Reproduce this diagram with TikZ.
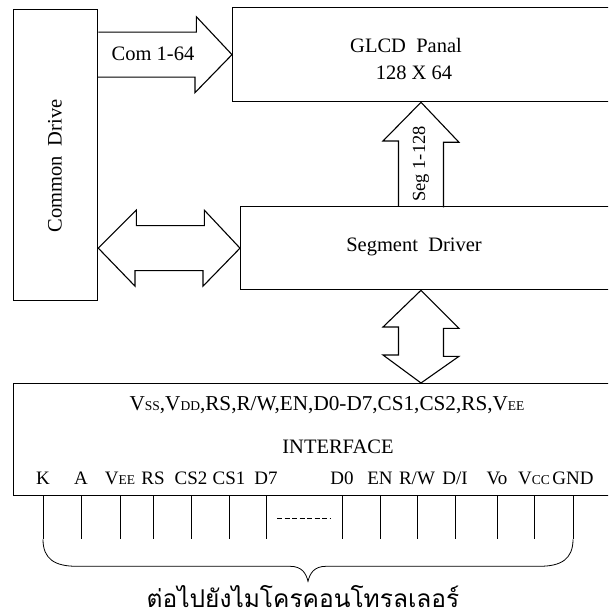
\documentclass[tikz,border=0pt]{standalone}
\usepackage{fontspec}
\setmainfont{Liberation Serif}
\newfontfamily\thaifont[Script=Thai]{Loma}
\usetikzlibrary{calc}
\newcommand\fs{\fontsize{20.5}{27}\selectfont}
\newcommand\fspin{\fontsize{19}{22}\selectfont}
\newcommand\sml[1]{{\fontsize{13.5}{13.5}\selectfont #1}}
\tikzset{
  blk/.style={draw, line width=1.3pt, inner sep=0pt},
  txt/.style={font=\fs, inner sep=0pt},
  blockarrow/.style={draw, line width=1.1pt, line join=miter},
  pinline/.style={line width=0.9pt},
}
\begin{document}
\begin{tikzpicture}[x=1pt, y=-1pt]
\useasboundingbox (0,0) rectangle (608,612);
\clip (0,0) rectangle (608,612);
% boxes
\node[blk, anchor=north west, minimum width=84pt, minimum height=291pt] (cdrive) at (13,9) {};
\node[blk, anchor=north west, minimum width=400pt, minimum height=94pt] (glcd) at (232,7) {};
\node[blk, anchor=north west, minimum width=400pt, minimum height=83pt] (segdrv) at (240,206) {};
\node[blk, anchor=north west, minimum width=620pt, minimum height=112pt] (iface) at (13,383) {};
\node[txt, rotate=90] (cdtxt) at (55,166) {Common\ \ Drive};
\node[txt, align=center] (glcdtxt) at (406,58.5) {GLCD\ \ Panal\\\hspace{16pt}128 X 64};
\node[txt] (segtxt) at (414,247) {Segment\ \ Driver};
% block arrows
\pgfmathsetmacro{\ax}{421}
\draw[blockarrow] (cdrive.east |- glcd.west) ++(0,-22.5) -- ++(98,0) -- ++(0,-15.5) -- (glcd.west)
  -- ++(-37,38) -- ++(0,-15.5) -- ++(-98,0);
\node[txt] (comlbl) at (153,54) {Com 1-64};
\draw[blockarrow] (cdrive.east |- segdrv.west) -- ++(38,-38) -- ++(0,15.5) -- ++(68,0) -- ++(0,-15.5)
  -- (segdrv.west) -- ++(-37,38) -- ++(0,-15.5) -- ++(-68,0) -- ++(0,15.5) -- cycle;
\draw[blockarrow] (\ax-22.5,0 |- segdrv.north) -- ++(0,-65) -- ++(-15.5,0) -- (\ax,0 |- glcd.south)
  -- ++(38,40) -- ++(-15.5,0) -- ++(0,65);
\node[txt, font=\fontsize{18.5}{22}\selectfont, rotate=90] (seglbl) at (\ax,164) {Seg 1-128};
\draw[blockarrow] (\ax,0 |- segdrv.south) -- ++(38,38) -- ++(-15.5,0) -- ++(0,28) -- ++(15.5,0)
  -- (\ax,0 |- iface.north) -- ++(-38,-28) -- ++(15.5,0) -- ++(0,-28) -- ++(-15.5,0) -- cycle;
% interface text
\node[txt, font=\fontsize{21.2}{27}\selectfont] (sigs) at (327,405) {V\sml{SS},V\sml{DD},RS,R/W,EN,D0-D7,CS1,CS2,RS,V\sml{EE}};
\node[txt] (iftxt) at (338,447) {INTERFACE};
\foreach \px/\pl [count=\i] in {43/K, 81/A, 120/V\sml{EE}, 153/RS, 191/CS2, 229/CS1, 266/D7,
  342/D0, 380/EN, 417/{R/W}, 455/{D/I}, 497/Vo, 534/V\sml{CC}, 573/GND}{
  \node[font=\fspin, inner sep=0pt] (pin\i) at (\px,478) {\pl};
  \draw[pinline] (pin\i |- iface.south) -- ++(0,43) coordinate (pend\i);
}
\draw[pinline, dash pattern=on 5pt off 2.5pt] (277,518) -- (330,518);
% brace
\coordinate (btip) at ($(pend1)!0.5!(pend14)+(0,42)$);
\draw[line width=0.8pt] (pend1) .. controls +(0,20) and +(-22,0) .. ($(pend1)+(34,27)$)
  -- ($(btip)+(-18,-15)$) .. controls +(12,0) and +(-2,-8) .. (btip)
  .. controls +(2,-8) and +(-12,0) .. ($(btip)+(18,-15)$)
  -- ($(pend14)+(-34,27)$) .. controls +(22,0) and +(0,20) .. (pend14);
\node[font=\thaifont\fontsize{24.5}{28}\selectfont, inner sep=0pt, text depth=0pt, anchor=base] (mcu) at (303,607) {ต่อไปยังไมโครคอนโทรลเลอร์};
\end{tikzpicture}
\end{document}
